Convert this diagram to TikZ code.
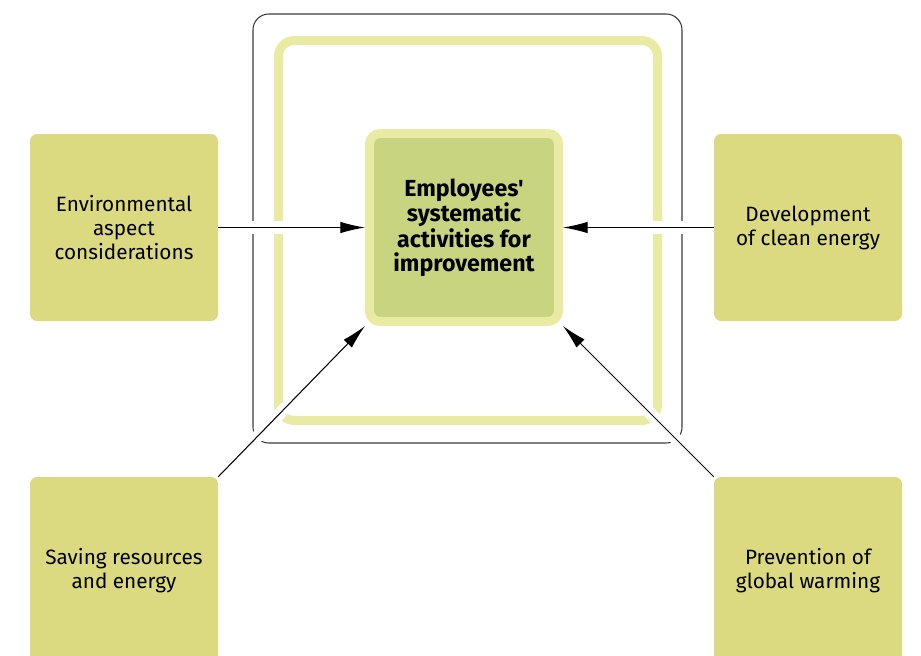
\documentclass[tikz,border=0pt]{standalone}
\usepackage{fontspec}
\setmainfont{Fira Sans}[Ligatures=TeXOff]
\usepackage{xcolor}
\usetikzlibrary{arrows.meta, positioning, backgrounds}

\definecolor{boxfill}{HTML}{DCDA80}
\definecolor{hubfill}{HTML}{C8D47F}
\definecolor{hubrim}{HTML}{EAEBA2}
\definecolor{framegray}{HTML}{3A3A3A}

\begin{document}
\begin{tikzpicture}[x=1cm, y=1cm,
    aspect/.style={rectangle, rounded corners=4pt, fill=boxfill, minimum width=3.76cm, minimum height=3.74cm, align=center, font=\fontsize{11.8}{13.6}\selectfont},
    hub/.style={rectangle, rounded corners=6pt, draw=hubrim, line width=5.1pt, fill=hubfill, minimum width=3.78cm, minimum height=3.76cm, align=center, font=\fontsize{13.2}{13.4}\selectfont\bfseries},
    link/.style={line width=0.6pt, -{Latex[length=14pt, width=6.5pt]}},
    halo/.style={white, line width=7pt}
]
\path[use as bounding box, clip] (0,0) rectangle (18.42,-13.1);

% Central activity
\node[hub] (hub) at (9.28,-4.55) {Employees'\\systematic\\activities for\\improvement};

% Surrounding aspects
\node[aspect] (env) at (2.48,-4.55) {Environmental\\aspect\\considerations};
\node[aspect] (clean) at (16.16,-4.55) {Development\\of clean energy};
\node[aspect] (saving) at (2.48,-11.41) {Saving resources\\and energy};
\node[aspect] (warming) at (16.16,-11.41) {Prevention of\\global warming};

% Frames behind everything
\begin{pgfonlayer}{background}
\draw[framegray, line width=0.6pt, rounded corners=9pt] (5.06,-0.28) rectangle (13.64,-8.86);
\draw[hubrim, line width=5.1pt, rounded corners=9pt] (5.57,-0.81) rectangle (13.15,-8.41);
\draw[halo] (env.east) -- (hub.west);
\draw[halo] (clean.west) -- (hub.east);
\draw[halo] (saving.north east) -- (hub.south west);
\draw[halo] (warming.north west) -- (hub.south east);
\end{pgfonlayer}

% Arrows into the hub
\draw[link] (env.east) -- (hub.west);
\draw[link] (clean.west) -- (hub.east);
\draw[link] (saving.north east) -- (hub.south west);
\draw[link] (warming.north west) -- (hub.south east);

\end{tikzpicture}
\end{document}
